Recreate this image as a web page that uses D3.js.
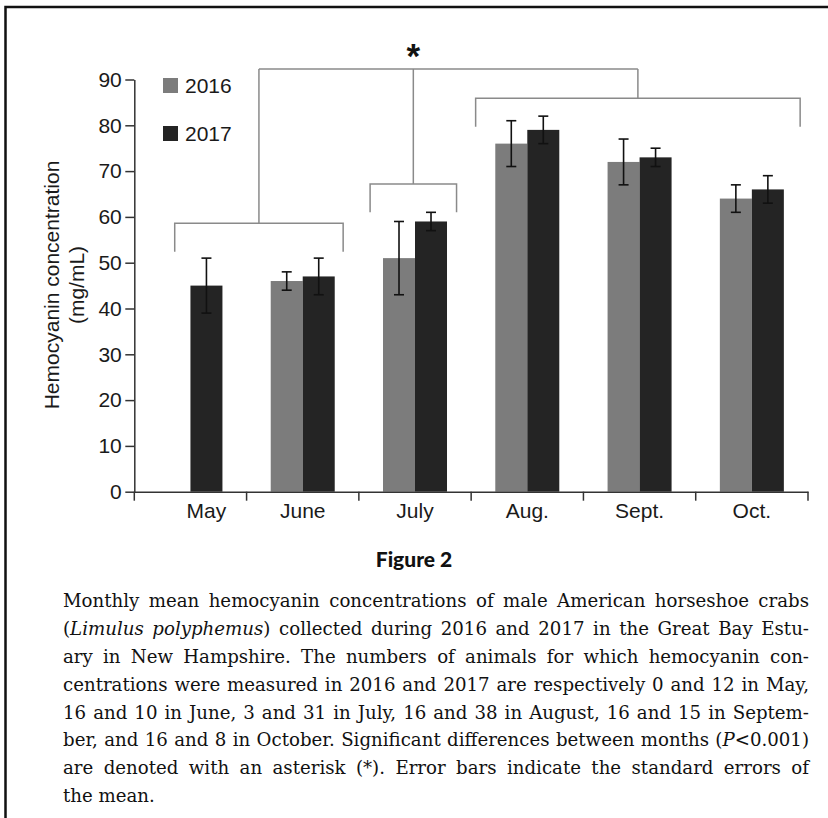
<!DOCTYPE html>
<html><head><meta charset="utf-8">
<script src="https://cdn.jsdelivr.net/npm/d3@7"></script>
<style>
body{margin:0;background:#fff;}
#wrap{position:relative;width:828px;height:818px;overflow:hidden;background:#fff;}
svg{position:absolute;left:0;top:0;}
#cap{position:absolute;left:63px;width:746px;top:587px;font-family:"DejaVu Serif",serif;color:#111;}
#cap div{text-align:justify;text-align-last:justify;white-space:nowrap;height:27.9px;line-height:27.9px;}
#cap div.last{text-align-last:left;}
</style></head><body><div id="wrap"><svg id="chart" width="828" height="818"></svg><div id="cap"></div></div>
<script>
// ---- data ----
const months = ["May", "June", "July", "Aug.", "Sept.", "Oct."];
const years = ["2016", "2017"];
const values2016 = [null, 46, 51, 76, 72, 64];
const values2017 = [45, 47, 59, 79, 73, 66];
const err2016 = [null, 2, 8, 5, 5, 3];
const err2017 = [6, 4, 2, 3, 2, 3];
const yTicks = [0, 10, 20, 30, 40, 50, 60, 70, 80, 90];
const yTitle = ["Hemocyanin concentration", "(mg/mL)"];
const figTitle = "Figure 2";
// significance groups: first/last month, level (mg/mL)
const groups = [
  {from: "May", to: "June", level: 58.6, f0: 0.36, f1: 0.86},
  {from: "July", to: "July", level: 67.2, f0: 0.10, f1: 0.87},
  {from: "Aug.", to: "Oct.", level: 85.9, f0: 0.04, f1: 0.93}
];
const topLevel = 92.3;
const legLen = 6.2;
const captionLines = [
  "Monthly mean hemocyanin concentrations of male American horseshoe crabs",
  "(<i>Limulus polyphemus</i>) collected during 2016 and 2017 in the Great Bay Estu-",
  "ary in New Hampshire. The numbers of animals for which hemocyanin con-",
  "centrations were measured in 2016 and 2017 are respectively 0 and 12 in May,",
  "16 and 10 in June, 3 and 31 in July, 16 and 38 in August, 16 and 15 in Septem-",
  "ber, and 16 and 8 in October. Significant differences between months (<i>P</i>&lt;0.001)",
  "are denoted with an asterisk (*). Error bars indicate the standard errors of",
  "the mean."
];

const colors = {"2016": "#7c7c7c", "2017": "#242424"};
const FONT = "'Liberation Sans', Arial, Helvetica, sans-serif";

const svg = d3.select("#chart");

// frame
svg.append("path").attr("d", "M5.5,818V7H828").attr("fill", "none")
  .attr("stroke", "#111").attr("stroke-width", 2.5);

const x0 = d3.scaleBand().domain(months).range([134.3, 808])
  .paddingInner(0.43).paddingOuter(0.215);
const x1 = d3.scaleBand().domain(years).range([0, x0.bandwidth()]);
const y = d3.scaleLinear().domain([0, 90]).range([491.7, 79.5]);

const rows = months.map((m, i) => ({
  month: m,
  bars: [
    {year: "2016", v: values2016[i], e: err2016[i]},
    {year: "2017", v: values2017[i], e: err2017[i]}
  ].filter(b => b.v != null)
}));

// bars
const g = svg.append("g");
rows.forEach(r => {
  r.bars.forEach(b => {
    const bx = x0(r.month) + x1(b.year);
    g.append("rect").attr("x", bx).attr("y", y(b.v))
      .attr("width", x1.bandwidth()).attr("height", y(0) - y(b.v))
      .attr("fill", colors[b.year]);
  });
});
// error bars
rows.forEach(r => {
  r.bars.forEach(b => {
    const cx = x0(r.month) + x1(b.year) + x1.bandwidth() / 2;
    const eg = g.append("g").attr("stroke", "#111").attr("stroke-width", 1.6);
    eg.append("line").attr("x1", cx).attr("x2", cx).attr("y1", y(b.v + b.e)).attr("y2", y(b.v - b.e));
    [b.v + b.e, b.v - b.e].forEach(v => eg.append("line")
      .attr("x1", cx - 5).attr("x2", cx + 5).attr("y1", y(v)).attr("y2", y(v)));
  });
});

// y axis
const yAxis = svg.append("g").attr("transform", `translate(${x0.range()[0]},0)`)
  .call(d3.axisLeft(y).tickValues(yTicks).tickSize(9).tickSizeOuter(0).tickPadding(3.5));
yAxis.selectAll("path,line").attr("stroke", "#333").attr("stroke-width", 1.5);
yAxis.selectAll("text").attr("font-family", FONT).attr("font-size", 21).attr("fill", "#1a1a1a");

// x axis
const xAxis = svg.append("g").attr("transform", `translate(0,${y(0)})`)
  .call(d3.axisBottom(x0).tickSize(0).tickSizeOuter(0).tickPadding(11));
xAxis.selectAll("path").attr("stroke", "#333").attr("stroke-width", 1.5);
xAxis.selectAll("text").attr("font-family", FONT).attr("font-size", 21).attr("fill", "#1a1a1a");
// centre each label under the bars that exist
xAxis.selectAll(".tick").attr("transform", m => {
  const r = rows.find(d => d.month === m);
  const xs = r.bars.map(b => x0(m) + x1(b.year) + x1.bandwidth() / 2);
  return `translate(${d3.mean(xs)},0)`;
});
// category boundary ticks
d3.range(months.length + 1).forEach(i => {
  const bx = x0.range()[0] + i * x0.step();
  xAxis.append("line").attr("x1", bx).attr("x2", bx).attr("y1", 0).attr("y2", 9)
    .attr("stroke", "#333").attr("stroke-width", 1.5);
});

// y title
yTitle.forEach((t, i) => {
  svg.append("text").attr("transform", `translate(${51 + i * 25},285) rotate(-90)`)
    .attr("text-anchor", "middle").attr("dominant-baseline", "central")
    .attr("font-family", FONT).attr("font-size", 21).attr("fill", "#1a1a1a").text(t);
});

// legend
years.forEach((yr, i) => {
  const ly = 78 + i * 48;
  svg.append("rect").attr("x", 163).attr("y", ly).attr("width", 15).attr("height", 15).attr("fill", colors[yr]);
  svg.append("text").attr("x", 185).attr("y", ly + 7.5).attr("dominant-baseline", "central")
    .attr("font-family", FONT).attr("font-size", 21).attr("fill", "#1a1a1a").text(yr);
});

// significance brackets
const bg = svg.append("g").attr("fill", "none").attr("stroke", "#8a8a8a").attr("stroke-width", 1.5);
const centers = groups.map(gr => {
  const xa = x0.range()[0] + months.indexOf(gr.from) * x0.step() + gr.f0 * x0.step();
  const xb = x0.range()[0] + months.indexOf(gr.to) * x0.step() + gr.f1 * x0.step();
  bg.append("path").attr("d",
    `M${xa},${y(gr.level - legLen)}V${y(gr.level)}H${xb}V${y(gr.level - legLen)}`);
  const c = (xa + xb) / 2;
  bg.append("line").attr("x1", c).attr("x2", c).attr("y1", y(gr.level)).attr("y2", y(topLevel));
  return c;
});
bg.append("line").attr("x1", centers[0]).attr("x2", centers[2])
  .attr("y1", y(topLevel)).attr("y2", y(topLevel));
svg.append("text").attr("x", centers[1]).attr("y", y(topLevel) - 0.5)
  .attr("text-anchor", "middle").attr("font-family", FONT).attr("font-weight", "bold")
  .attr("font-size", 35).attr("fill", "#111").text("*");

// figure title
svg.append("text").attr("x", 414).attr("y", 567).attr("text-anchor", "middle")
  .attr("font-family", "Lato, 'DejaVu Sans', sans-serif").attr("font-weight", "900")
  .attr("font-size", 21).attr("fill", "#111").text(figTitle);

// caption
const cap = d3.select("#cap");
const ctx = document.createElement("canvas").getContext("2d");
ctx.font = "18px 'DejaVu Serif'";
const maxW = d3.max(captionLines, l => ctx.measureText(l.replace(/<[^>]+>/g, "").replace("&lt;", "<")).width);
const fs = Math.min(18.5, 18 * 740 / maxW);
cap.style("font-size", fs + "px");
captionLines.forEach((l, i) => {
  cap.append("div").attr("class", i === captionLines.length - 1 ? "last" : null).html(l);
});
</script></body></html>
